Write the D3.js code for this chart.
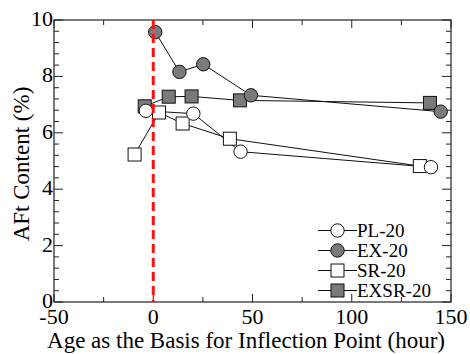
<!DOCTYPE html>
<html>
<head>
<meta charset="utf-8">
<script src="https://cdn.jsdelivr.net/npm/d3@7"></script>
<style>
  body { margin: 0; background: #fff; }
  svg text { font-family: "Liberation Serif", "DejaVu Serif", serif; }
</style>
</head>
<body>
<div id="chart"></div>
<script>
// values (x: hours from inflection point, y: AFt %)
const plX = [-3.7, 20.2, 44, 139.9]
const plY = [6.78, 6.68, 5.33, 4.78]
const exX = [1.0, 13.2, 25.2, 49.2, 144.8]
const exY = [9.57, 8.16, 8.43, 7.33, 6.75]
const srX = [-9.4, 2.9, 14.8, 38.6, 134.3]
const srY = [5.23, 6.72, 6.33, 5.79, 4.82]
const exsrX = [-4.3, 7.8, 19.3, 43.7, 139.4]
const exsrY = [6.94, 7.28, 7.29, 7.15, 7.06]

const seriesNames = ["PL-20", "EX-20", "SR-20", "EXSR-20"]
const xTicks = [-50, 0, 50, 100, 150]
const yTicks = [0, 2, 4, 6, 8, 10]

const width = 470, height = 354
const margin = {top: 20, right: 19, bottom: 52, left: 54}
const serif = "Liberation Serif, DejaVu Serif, serif"

const series = [
  {name: seriesNames[0], shape: "circle", fill: "#fff", xs: plX, ys: plY},
  {name: seriesNames[1], shape: "circle", fill: "#7a7a7a", xs: exX, ys: exY},
  {name: seriesNames[2], shape: "square", fill: "#fff", xs: srX, ys: srY},
  {name: seriesNames[3], shape: "square", fill: "#7a7a7a", xs: exsrX, ys: exsrY}
].map(s => ({...s, points: s.xs.map((x, i) => ({x, y: s.ys[i]}))}))

const svg = d3.select("#chart").append("svg")
  .attr("width", width).attr("height", height)
  .attr("viewBox", [0, 0, width, height])
  .attr("font-family", serif)

const x = d3.scaleLinear().domain([-50, 150]).range([margin.left, width - margin.right])
const y = d3.scaleLinear().domain([0, 10]).range([height - margin.bottom, margin.top])

const x0 = margin.left, x1 = width - margin.right
const y0 = height - margin.bottom, y1 = margin.top

// ticks, all pointing inward
const ticks = svg.append("g").attr("stroke", "#222").attr("stroke-width", 1)
d3.range(-50, 151, 25).forEach(v => {
  const len = v % 50 === 0 ? 8 : 5
  ticks.append("line").attr("x1", x(v)).attr("x2", x(v)).attr("y1", y0).attr("y2", y0 - len)
  ticks.append("line").attr("x1", x(v)).attr("x2", x(v)).attr("y1", y1).attr("y2", y1 + len)
})
d3.range(0, 26).forEach(i => {
  const v = i * 0.4
  const len = i % 5 === 0 ? 9 : 5
  ticks.append("line").attr("y1", y(v)).attr("y2", y(v)).attr("x1", x0).attr("x2", x0 + len)
  ticks.append("line").attr("y1", y(v)).attr("y2", y(v)).attr("x1", x1).attr("x2", x1 - len)
})

svg.append("rect")
  .attr("x", x0).attr("y", y1)
  .attr("width", x1 - x0).attr("height", y0 - y1)
  .attr("fill", "none").attr("stroke", "#222").attr("stroke-width", 1.2)

// tick labels
svg.append("g").selectAll("text").data(xTicks).join("text")
  .attr("x", d => x(d)).attr("y", y0 + 22)
  .attr("text-anchor", "middle").attr("font-size", 22).attr("font-family", serif)
  .text(d => d)

svg.append("g").selectAll("text").data(yTicks).join("text")
  .attr("x", x0 - 1).attr("y", d => y(d) + 6)
  .attr("text-anchor", "end").attr("font-size", 22).attr("font-family", serif)
  .text(d => d)

// axis titles
svg.append("text")
  .attr("x", 246).attr("y", 348)
  .attr("text-anchor", "middle").attr("font-size", 23).attr("font-family", serif)
  .text("Age as the Basis for Inflection Point (hour)")

svg.append("text")
  .attr("transform", `translate(29,164) rotate(-90)`)
  .attr("text-anchor", "middle").attr("font-size", 23).attr("font-family", serif)
  .text("AFt Content (%)")

// connecting lines
const line = d3.line().x(d => x(d.x)).y(d => y(d.y))
svg.append("g").selectAll("path").data(series).join("path")
  .attr("d", d => line(d.points))
  .attr("fill", "none").attr("stroke", "#111").attr("stroke-width", 1)

function marker(g, shape, fill, cx, cy) {
  if (shape === "circle") {
    g.append("circle").attr("cx", cx).attr("cy", cy).attr("r", 6.7)
      .attr("fill", fill).attr("stroke", "#111").attr("stroke-width", 1)
  } else {
    g.append("rect").attr("x", cx - 6.5).attr("y", cy - 6.5)
      .attr("width", 13).attr("height", 13)
      .attr("fill", fill).attr("stroke", "#111").attr("stroke-width", 1)
  }
}

// squares underneath circles
const marks = svg.append("g")
const drawOrder = [series[2], series[3], series[0], series[1]]
drawOrder.forEach(s => {
  s.points.forEach(p => marker(marks, s.shape, s.fill, x(p.x), y(p.y)))
})

// inflection point
svg.append("line")
  .attr("x1", x(0)).attr("x2", x(0))
  .attr("y1", y1).attr("y2", y0)
  .attr("stroke", "#ff1010").attr("stroke-width", 3)
  .attr("stroke-dasharray", "9,5")

// legend
const legend = svg.append("g")
series.forEach((s, i) => {
  const cy = 230.5 + i * 20
  legend.append("line")
    .attr("x1", 318).attr("x2", 357).attr("y1", cy).attr("y2", cy)
    .attr("stroke", "#111").attr("stroke-width", 1)
  marker(legend, s.shape, s.fill, 337.5, cy)
  legend.append("text")
    .attr("x", 357).attr("y", cy + 6.5)
    .attr("font-size", 19).attr("font-family", serif)
    .text(s.name)
})
</script>
</body>
</html>
